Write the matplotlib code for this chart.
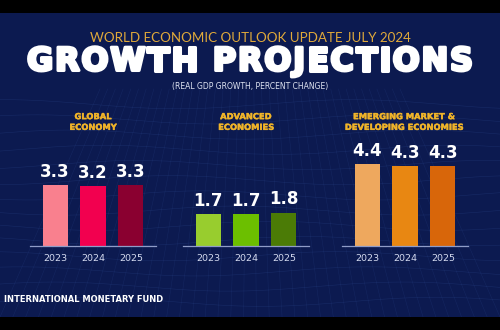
import numpy as np
import matplotlib.pyplot as plt
import matplotlib.patheffects as pe

# data
years = ['2023', '2024', '2025']
groups = ['GLOBAL\nECONOMY', 'ADVANCED\nECONOMIES', 'EMERGING MARKET &\nDEVELOPING ECONOMIES']
global_vals = [3.3, 3.2, 3.3]
advanced_vals = [1.7, 1.7, 1.8]
emerging_vals = [4.4, 4.3, 4.3]
group_colors = [
    ['#f9808e', '#f2004f', '#8a0030'],
    ['#98cd2e', '#6cbf00', '#4b7b06'],
    ['#eea85e', '#e88712', '#d8660a'],
]

W, H = 500, 330
fig = plt.figure(figsize=(5, 3.3), dpi=100)
fig.patch.set_facecolor('black')

# navy panel between the black bands
bg = fig.add_axes([0, 13 / H, 1, 304 / H])
bg.set_facecolor('#0c1a50')
bg.set_xlim(0, 1)
bg.set_ylim(0, 1)
bg.set_xticks([])
bg.set_yticks([])
for s in bg.spines.values():
    s.set_visible(False)
# faint wire mesh in the lower part (decoration only)
xs = np.linspace(0, 1, 200)
for k in range(14):
    y0 = 0.05 + k * 0.05
    bg.plot(xs, y0 + 0.015 * np.sin(xs * 9 + k * 0.6), color='#3a5aa8', lw=0.4, alpha=0.25)
for k in range(40):
    x0 = k / 39
    bg.plot([x0, 0.5 + (x0 - 0.5) * 0.6], [0, 0.75], color='#3a5aa8', lw=0.4, alpha=0.18)

# titles
fig.text(0.5, 1 - 38 / H, 'WORLD ECONOMIC OUTLOOK UPDATE JULY 2024', ha='center', va='center',
         color='#e0a93a', fontsize=9.6, family='Lato')
fig.text(0.5, 1 - 86 / H, '(REAL GDP GROWTH, PERCENT CHANGE)', ha='center', va='center',
         color='#dfe4f2', fontsize=5.5)
fig.text(4 / W, 1 - 300 / H, 'INTERNATIONAL MONETARY FUND', ha='left', va='center',
         color='white', fontsize=6, fontweight='bold')

# big title with wide letter spacing, spread from x=27 to x=473 px
title = 'GROWTH PROJECTIONS'
renderer = fig.canvas.get_renderer()
stroke = [pe.withStroke(linewidth=2.2, foreground='white')]
chars = []
widths = []
for ch in title:
    t = fig.text(0, 1 - 62 / H, ch if ch != ' ' else 'I', ha='left', va='center',
                 color='white', fontsize=23, fontweight='heavy', family='DejaVu Sans',
                 path_effects=stroke)
    widths.append(t.get_window_extent(renderer).width)
    if ch == ' ':
        t.set_visible(False)
    chars.append(t)
gap = (446 - sum(widths)) / (len(title) - 1)
xpos = 27.0
for t, w in zip(chars, widths):
    t.set_x(xpos / W)
    xpos += w + gap

# bar panels
all_vals = [global_vals, advanced_vals, emerging_vals]
left_px = [30, 183, 342]
baseline = (H - 246) / H
ymax = 5.0
px_per_unit = 18.6
ax_h = ymax * px_per_unit / H

for i in range(3):
    ax = fig.add_axes([left_px[i] / W, baseline, 126 / W, ax_h])
    ax.set_facecolor('none')
    x = np.arange(len(years))
    bars = ax.bar(x, all_vals[i], width=0.66, color=group_colors[i])
    ax.set_xlim(-0.66, 2.66)
    ax.set_ylim(0, ymax)
    for s in ['top', 'right', 'left']:
        ax.spines[s].set_visible(False)
    ax.spines['bottom'].set_color('#8f9cc8')
    ax.spines['bottom'].set_linewidth(0.9)
    ax.set_yticks([])
    ax.set_xticks(x)
    ax.set_xticklabels(years, color='#d4daef', fontsize=6.8)
    ax.tick_params(axis='x', length=0, pad=6)
    for b, v in zip(bars, all_vals[i]):
        ax.text(b.get_x() + b.get_width() / 2, v + 0.22, f'{v:.1f}', ha='center', va='bottom',
                color='white', fontsize=12, fontweight='bold')

# group titles
title_x = [93, 246, 404]
for i in range(3):
    fig.text(title_x[i] / W, 1 - 122 / H, groups[i], ha='center', va='center',
             color='#f0b429', fontsize=6, fontweight='heavy', linespacing=1.25,
             path_effects=[pe.withStroke(linewidth=0.3, foreground='#f0b429')])

fig.savefig('out.png', dpi=100, facecolor=fig.get_facecolor())
